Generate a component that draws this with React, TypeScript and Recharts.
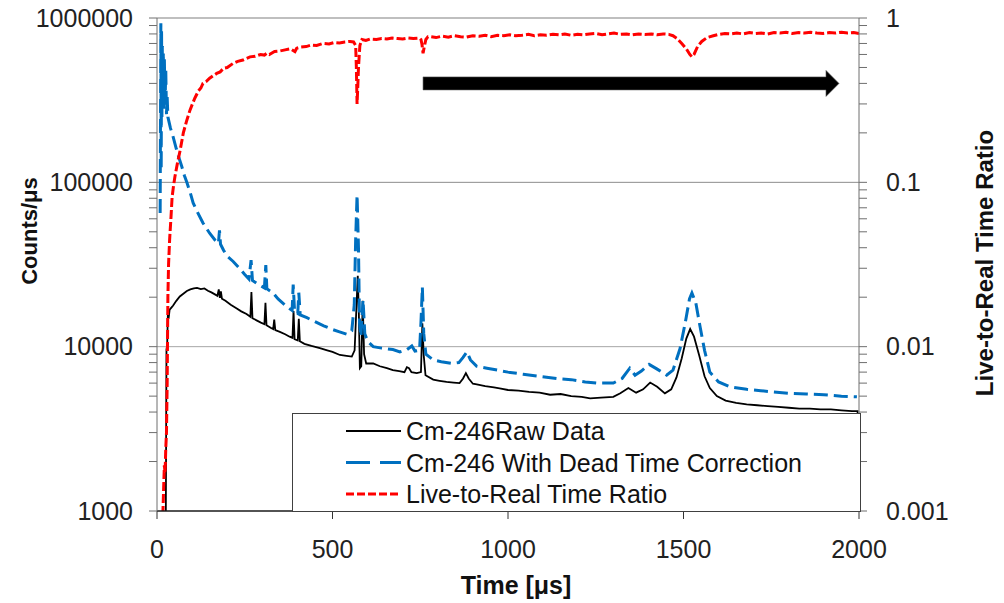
import React from 'react';
import { LineChart, Line, XAxis, YAxis, ReferenceLine } from 'recharts';

// axis ticks
const timeTicks = [0, 500, 1000, 1500, 2000];
const countDecades = [1000, 10000, 100000, 1000000];
const ratioDecades = [0.001, 0.01, 0.1, 1];
const minorSteps = [2, 3, 4, 5, 6, 7, 8, 9];
const countLabels = ['1000', '10000', '100000', '1000000'];
const ratioLabels = ['0.001', '0.01', '0.1', '1'];

const seriesNames = ['Cm-246Raw Data', 'Cm-246 With Dead Time Correction', 'Live-to-Real Time Ratio'];

// [time µs, counts/µs]
const rawData: [number, number][] = [
  [25, 800], [27, 9600], [29, 10200], [31, 16000], [33, 14800], [36, 16800], [41, 17300], [46, 17800],
  [55, 19000], [65, 20200], [75, 21000], [85, 21800], [95, 22300], [105, 22600], [114, 22800], [125, 22400],
  [135, 22600], [145, 21900], [155, 21400], [165, 20800], [172, 20400], [176, 22300], [179, 19800], [182, 21700],
  [185, 19600], [195, 19000], [210, 18000], [225, 17200], [240, 16400], [255, 15800], [266, 15200], [269, 21500],
  [272, 14900], [285, 14400], [296, 14000], [306, 13700], [309, 18500], [312, 13500], [325, 13000], [331, 12800],
  [334, 14600], [337, 12600], [350, 12300], [365, 11900], [378, 11500], [386, 11300], [389, 16500], [392, 11100],
  [401, 10900], [404, 14800], [407, 10800], [420, 10400], [440, 10100], [464, 9800], [485, 9500], [500, 9300],
  [521, 8900], [540, 8800], [555, 8700], [563, 9500], [568, 17000], [572, 27000], [575, 16000], [578, 7400],
  [582, 7600], [586, 19000], [590, 9000], [596, 7900], [616, 7900], [635, 7600], [655, 7400], [672, 7200],
  [690, 7100], [705, 7000], [712, 7500], [718, 7400], [725, 7000], [740, 6900], [752, 7000], [756, 13900],
  [760, 8800], [765, 6700], [787, 6300], [805, 6200], [825, 6100], [845, 6050], [862, 6000], [872, 6400],
  [880, 6900], [888, 6400], [900, 5950], [911, 5900], [935, 5750], [960, 5650], [980, 5550], [1000, 5450],
  [1030, 5400], [1060, 5300], [1090, 5250], [1120, 5100], [1150, 5150], [1180, 5000], [1210, 4950], [1234, 4850],
  [1265, 4900], [1300, 4950], [1320, 5200], [1343, 5600], [1365, 5250], [1385, 5500], [1405, 6050], [1425, 5700],
  [1447, 5200], [1465, 5500], [1480, 6500], [1495, 8500], [1508, 11200], [1519, 12800], [1530, 11500], [1545, 8800],
  [1560, 6600], [1575, 5600], [1595, 5000], [1620, 4700], [1650, 4550], [1680, 4450], [1710, 4400], [1740, 4350],
  [1770, 4300], [1800, 4250], [1830, 4200], [1860, 4200], [1890, 4150], [1920, 4150], [1950, 4100], [1980, 4050],
  [1996, 4050], [2000, 500],
];

// [time µs, counts/µs] after dead time correction
const correctedData: [number, number][] = [
  [9, 65000], [11, 930000], [12, 120000], [13, 850000], [14, 250000], [15, 700000], [16, 330000], [18, 620000],
  [19, 280000], [21, 560000], [23, 300000], [25, 480000], [27, 260000], [29, 330000], [31, 250000], [38, 215000],
  [46, 189000], [55, 160000], [63, 140000], [71, 124000], [78, 110000], [85, 100000], [95, 86000], [103, 75000],
  [115, 66000], [131, 56600], [150, 49000], [165, 44600], [175, 42500], [178, 51000], [181, 42000], [190, 38500],
  [200, 35500], [217, 33000], [235, 30000], [250, 27500], [262, 25800], [268, 33600], [272, 25300], [285, 24200],
  [300, 23200], [306, 22800], [310, 31400], [313, 22500], [330, 21300], [345, 19500], [360, 18300], [375, 17200],
  [385, 16600], [388, 23900], [392, 16300], [401, 15900], [404, 21300], [408, 15600], [427, 15000], [450, 14200],
  [475, 13400], [501, 12700], [520, 12300], [541, 11900], [555, 12500], [562, 18000], [566, 45000], [570, 83800],
  [574, 40000], [577, 14000], [581, 11500], [587, 19300], [592, 12000], [600, 10800], [616, 10000], [640, 9800],
  [672, 9600], [692, 9300], [712, 9600], [726, 10100], [735, 9400], [748, 9500], [752, 14000], [756, 23000],
  [760, 12000], [766, 9000], [787, 8300], [810, 8100], [840, 7900], [860, 8000], [872, 8600], [883, 9300],
  [893, 8300], [911, 7600], [940, 7400], [970, 7200], [1000, 7000], [1043, 6800], [1090, 6600], [1139, 6400],
  [1180, 6300], [1220, 6100], [1253, 6000], [1300, 6000], [1325, 6400], [1347, 7400], [1362, 6700], [1380, 7100],
  [1402, 7800], [1425, 7300], [1452, 6700], [1470, 7200], [1490, 9700], [1505, 14000], [1517, 19500], [1524, 21200],
  [1535, 18500], [1547, 13300], [1560, 9500], [1575, 7000], [1600, 6100], [1632, 5700], [1680, 5500], [1720, 5400],
  [1755, 5300], [1800, 5200], [1850, 5150], [1900, 5100], [1950, 5000], [1994, 4950],
];

// [time µs, live-to-real ratio]
const ratioData: [number, number][] = [
  [14, 0.0008], [17, 0.001], [19, 0.0014], [21, 0.0019], [23, 0.0017], [25, 0.0024], [27, 0.003], [29, 0.006],
  [30, 0.011], [31, 0.02], [33, 0.032], [36, 0.045], [40, 0.062], [43, 0.081], [47, 0.095], [51, 0.108],
  [58, 0.13], [66, 0.157], [75, 0.2], [84, 0.235], [94, 0.275], [101, 0.3], [108, 0.326], [118, 0.36],
  [125, 0.375], [131, 0.4], [140, 0.41], [150, 0.43], [160, 0.445], [170, 0.46], [180, 0.47], [190, 0.495],
  [200, 0.5], [217, 0.53], [230, 0.545], [245, 0.555], [265, 0.58], [280, 0.585], [295, 0.6], [306, 0.595],
  [313, 0.61], [320, 0.6], [335, 0.625], [350, 0.63], [365, 0.64], [380, 0.65], [393, 0.625], [398, 0.655],
  [410, 0.665], [425, 0.67], [440, 0.685], [455, 0.68], [473, 0.7], [490, 0.695], [505, 0.71], [520, 0.705],
  [535, 0.715], [550, 0.72], [560, 0.715], [566, 0.68], [568, 0.5], [570, 0.3], [572, 0.38], [574, 0.5],
  [578, 0.68], [584, 0.74], [595, 0.73], [607, 0.745], [625, 0.74], [640, 0.75], [655, 0.745], [670, 0.755],
  [685, 0.75], [700, 0.745], [715, 0.755], [730, 0.75], [748, 0.755], [752, 0.74], [755, 0.69], [758, 0.61],
  [761, 0.66], [766, 0.74], [772, 0.77], [778, 0.77], [795, 0.76], [812, 0.775], [830, 0.765], [848, 0.78],
  [865, 0.77], [882, 0.765], [900, 0.78], [918, 0.775], [935, 0.785], [952, 0.77], [970, 0.785], [988, 0.78],
  [1005, 0.79], [1022, 0.78], [1040, 0.785], [1058, 0.795], [1075, 0.78], [1092, 0.79], [1110, 0.785], [1128, 0.795],
  [1145, 0.79], [1162, 0.8], [1180, 0.785], [1198, 0.795], [1215, 0.79], [1232, 0.8], [1250, 0.805], [1268, 0.79],
  [1285, 0.8], [1302, 0.81], [1320, 0.795], [1338, 0.8], [1355, 0.79], [1372, 0.8], [1390, 0.795], [1408, 0.8],
  [1425, 0.79], [1442, 0.8], [1458, 0.795], [1470, 0.78], [1482, 0.75], [1495, 0.7], [1508, 0.65], [1518, 0.6],
  [1524, 0.58], [1530, 0.6], [1540, 0.67], [1552, 0.72], [1567, 0.76], [1585, 0.78], [1600, 0.795], [1618, 0.805],
  [1635, 0.8], [1652, 0.81], [1670, 0.8], [1688, 0.815], [1705, 0.805], [1722, 0.81], [1740, 0.8], [1758, 0.815],
  [1775, 0.81], [1792, 0.82], [1810, 0.805], [1828, 0.815], [1845, 0.81], [1862, 0.82], [1880, 0.81], [1898, 0.805],
  [1915, 0.815], [1932, 0.81], [1950, 0.82], [1968, 0.81], [1985, 0.815], [2000, 0.805],
];

// arrow annotation, in data units (time, ratio)
const arrowStart = { x: 758, y: 0.4 };
const arrowEnd = { x: 1943, y: 0.4 };

const FONT = '"Liberation Sans", Arial, sans-serif';
const AXIS_GREY = '#6e6e6e';

const withMinor = (decades: number[]) =>
  decades.flatMap((d, i) => (i < decades.length - 1 ? [d, ...minorSteps.map((m) => d * m)] : [d]));

const toRows = (pts: [number, number][]) => pts.map(([t, v]) => ({ t, v }));

const LeftTick = ({ x, y, payload }: any) => {
  const idx = countDecades.indexOf(payload.value);
  if (idx < 0) return <g />;
  return (
    <text x={x} y={y} dy={8.5} textAnchor="end" fontSize={25} fill="#222" fontFamily={FONT}>
      {countLabels[idx]}
    </text>
  );
};

const RightTick = ({ x, y, payload }: any) => {
  const idx = ratioDecades.indexOf(payload.value);
  if (idx < 0) return <g />;
  return (
    <text x={x} y={y} dy={8.5} textAnchor="start" fontSize={25} fill="#222" fontFamily={FONT}>
      {ratioLabels[idx]}
    </text>
  );
};

const ArrowShape = (props: any) => {
  const { x1, y1, x2 } = props;
  const half = 6.5;
  const headHalf = 13;
  const bx = x2 - 13;
  return (
    <path
      d={`M${x1},${y1 - half} L${bx},${y1 - half} L${bx},${y1 - headHalf} L${x2},${y1} L${bx},${y1 + headHalf} L${bx},${y1 + half} L${x1},${y1 + half} Z`}
      fill="#000"
      stroke="#555"
      strokeWidth={0.6}
    />
  );
};

function Legend() {
  const rows = [
    { name: seriesNames[0], color: '#000', width: 1.8, dash: undefined },
    { name: seriesNames[1], color: '#0070C0', width: 3, dash: '24 10' },
    { name: seriesNames[2], color: '#FF0000', width: 3, dash: '8 3' },
  ];
  return (
    <div
      style={{
        position: 'absolute', left: 292, top: 413, width: 567, height: 97,
        border: '1px solid #404040', background: '#fff',
      }}
    >
      <svg width={567} height={97}>
        {rows.map((r, i) => (
          <g key={r.name}>
            <line x1={53} x2={108} y1={17 + i * 31.5} y2={17 + i * 31.5} stroke={r.color} strokeWidth={r.width} strokeDasharray={r.dash} />
            <text x={113} y={17 + i * 31.5} dy={9} fontSize={25} fill="#111" fontFamily={FONT}>{r.name}</text>
          </g>
        ))}
      </svg>
    </div>
  );
}

export default function App() {
  return (
    <div style={{ position: 'absolute', left: 0, top: 0, width: 1004, height: 603, background: '#fff', fontFamily: FONT }}>
      <LineChart width={1004} height={603} margin={{ top: 18, right: 0, bottom: 0, left: 0 }}>
        <XAxis
          dataKey="t"
          type="number"
          domain={[0, 2000]}
          ticks={timeTicks}
          allowDataOverflow
          height={92}
          tickSize={8}
          tickMargin={21}
          axisLine={{ stroke: '#1a1a1a', strokeWidth: 1.5 }}
          tickLine={{ stroke: '#333' }}
          tick={{ fontSize: 25, fill: '#222', fontFamily: FONT }}
          label={() => (
            <text x={516} y={594} textAnchor="middle" fontSize={25} fontWeight="bold" fill="#111" fontFamily={FONT}>
              Time [μs]
            </text>
          )}
        />
        <YAxis
          yAxisId="left"
          scale="log"
          domain={[1000, 1000000]}
          ticks={withMinor(countDecades)}
          interval={0}
          allowDataOverflow
          width={157}
          tickSize={8}
          tickMargin={16}
          axisLine={{ stroke: AXIS_GREY }}
          tickLine={{ stroke: AXIS_GREY }}
          tick={<LeftTick />}
          label={() => (
            <text x={0} y={0} transform="translate(37,231) rotate(-90)" textAnchor="middle" fontSize={22} fontWeight="bold" fill="#111" fontFamily={FONT}>
              Counts/μs
            </text>
          )}
        />
        <YAxis
          yAxisId="right"
          orientation="right"
          scale="log"
          domain={[0.001, 1]}
          ticks={withMinor(ratioDecades)}
          interval={0}
          allowDataOverflow
          width={145}
          tickSize={8}
          tickMargin={19}
          axisLine={{ stroke: AXIS_GREY }}
          tickLine={{ stroke: AXIS_GREY }}
          tick={<RightTick />}
          label={() => (
            <text x={0} y={0} transform="translate(993,263) rotate(-90)" textAnchor="middle" fontSize={24} fontWeight="bold" fill="#111" fontFamily={FONT}>
              Live-to-Real Time Ratio
            </text>
          )}
        />
        <ReferenceLine yAxisId="left" y={10000} stroke="#a6a6a6" strokeWidth={1} />
        <ReferenceLine yAxisId="left" y={100000} stroke="#8c8c8c" strokeWidth={1} />
        <ReferenceLine yAxisId="left" y={1000000} stroke="#808080" strokeWidth={1.2} />
        <Line
          yAxisId="left"
          data={toRows(rawData)}
          dataKey="v"
          type="linear"
          stroke="#000"
          strokeWidth={1.8}
          dot={false}
          isAnimationActive={false}
        />
        <Line
          yAxisId="left"
          data={toRows(correctedData)}
          dataKey="v"
          type="linear"
          stroke="#0070C0"
          strokeWidth={3}
          strokeDasharray="14 6"
          dot={false}
          isAnimationActive={false}
        />
        <Line
          yAxisId="right"
          data={toRows(ratioData)}
          dataKey="v"
          type="linear"
          stroke="#FF0000"
          strokeWidth={3}
          strokeDasharray="9 3"
          dot={false}
          isAnimationActive={false}
        />
        <ReferenceLine yAxisId="right" segment={[arrowStart, arrowEnd]} shape={<ArrowShape />} />
      </LineChart>
      <Legend />
    </div>
  );
}
